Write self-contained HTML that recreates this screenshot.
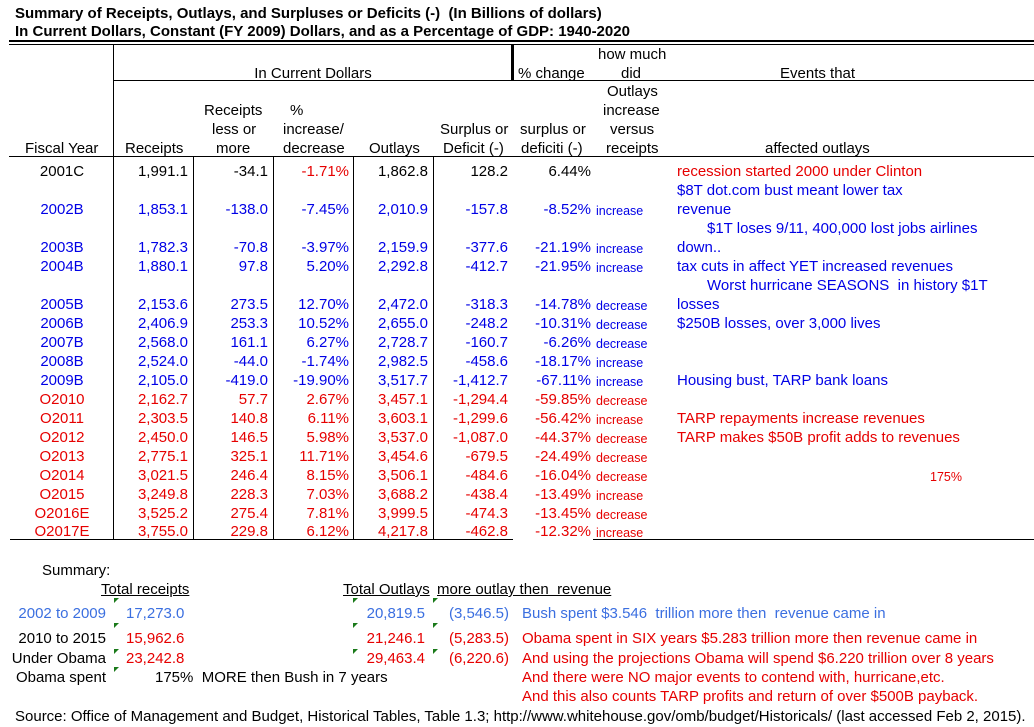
<!DOCTYPE html>
<html><head><meta charset="utf-8"><style>
body{margin:0;width:1034px;height:727px;background:#fff;overflow:hidden;font-family:"Liberation Sans",Arial,sans-serif;}
#root{position:relative;width:1034px;height:727px;}
.t{position:absolute;font-size:15px;line-height:16px;white-space:pre;color:#000;}
.r{text-align:right}.c{text-align:center}
.ln{position:absolute;background:#000;}
.b{color:#0000e6}.rd{color:#e60000}.lb{color:#3b6fe0}
.sm{font-size:12.5px}
.u{text-decoration:underline}
.mk{position:absolute;width:0;height:0;border-top:5px solid #1a7a1a;border-right:5px solid transparent;}
</style></head><body>
<div id="root">
<div class="t" style="left:15px;top:6px;font-weight:bold">Summary of Receipts, Outlays, and Surpluses or Deficits (-)  (In Billions of dollars)</div>
<div class="t" style="left:15px;top:24px;font-weight:bold">In Current Dollars, Constant (FY 2009) Dollars, and as a Percentage of GDP: 1940-2020</div>
<div class="ln" style="left:9px;top:40px;width:1025px;height:2px"></div>
<div class="ln" style="left:9px;top:44px;width:1025px;height:1px"></div>
<div class="ln" style="left:113px;top:45px;width:1px;height:495px"></div>
<div class="ln" style="left:511px;top:45px;width:3px;height:36px"></div>
<div class="ln" style="left:113px;top:80px;width:921px;height:1px"></div>
<div class="ln" style="left:9px;top:156px;width:1025px;height:1px"></div>
<div class="ln" style="left:10px;top:539px;width:503px;height:1px"></div>
<div class="ln" style="left:593px;top:539px;width:441px;height:1px"></div>
</div>
<script>
const years=["2001C","2002B","2003B","2004B","2005B","2006B","2007B","2008B","2009B","O2010","O2011","O2012","O2013","O2014","O2015","O2016E","O2017E"];
const receipts=["1,991.1","1,853.1","1,782.3","1,880.1","2,153.6","2,406.9","2,568.0","2,524.0","2,105.0","2,162.7","2,303.5","2,450.0","2,775.1","3,021.5","3,249.8","3,525.2","3,755.0"];
const lessMore=["-34.1","-138.0","-70.8","97.8","273.5","253.3","161.1","-44.0","-419.0","57.7","140.8","146.5","325.1","246.4","228.3","275.4","229.8"];
const pctInc=["-1.71%","-7.45%","-3.97%","5.20%","12.70%","10.52%","6.27%","-1.74%","-19.90%","2.67%","6.11%","5.98%","11.71%","8.15%","7.03%","7.81%","6.12%"];
const outlays=["1,862.8","2,010.9","2,159.9","2,292.8","2,472.0","2,655.0","2,728.7","2,982.5","3,517.7","3,457.1","3,603.1","3,537.0","3,454.6","3,506.1","3,688.2","3,999.5","4,217.8"];
const surplus=["128.2","-157.8","-377.6","-412.7","-318.3","-248.2","-160.7","-458.6","-1,412.7","-1,294.4","-1,299.6","-1,087.0","-679.5","-484.6","-438.4","-474.3","-462.8"];
const pctChg=["6.44%","-8.52%","-21.19%","-21.95%","-14.78%","-10.31%","-6.26%","-18.17%","-67.11%","-59.85%","-56.42%","-44.37%","-24.49%","-16.04%","-13.49%","-13.45%","-12.32%"];
const incDec=["","increase","increase","increase","decrease","decrease","decrease","increase","increase","decrease","increase","decrease","decrease","decrease","increase","decrease","increase"];
const rowY=[170,208,246,265,303,322,341,360,379,398,417,436,455,474,493,512,530];
const root=document.getElementById('root');
function add(txt,x,y,cls,w,name){
  const d=document.createElement('div');
  d.className='t '+(cls||'');
  d.style.top=(y-6)+'px';
  if(w){d.style.left=(x-w)+'px';d.style.width=w+'px';}else d.style.left=x+'px';
  d.textContent=txt;
  
  
  root.appendChild(d);return d;
}
add("In Current Dollars",413,72,'c',200,'header-current-dollars');
const hdr=[["% change",518,72],["how much",598,53],["did",621,72],["Outlays",607,90],["increase",603,109],["versus",610,128],["receipts",606,147],["Events that",780,72],["affected outlays",765,147],
["Receipts",204,109],["less or",212,128],["more",216,147],["%",290,109],["increase/",283,128],["decrease",283,147],["Fiscal Year",25,147],["Receipts",125,147],["Outlays",369,147],["Surplus or",440,128],["Deficit (-)",443,147],["surplus or",520,128],["deficiti (-)",521,147]];
hdr.forEach(h=>add(h[0],h[1],h[2],'', 0,'header-label'));
[193,273,353,433].forEach(x=>{const l=document.createElement('div');l.className='ln';l.style.cssText=`left:${x}px;top:157px;width:1px;height:383px`;


root.appendChild(l);});
years.forEach((yr,i)=>{
  const y=rowY[i];
  const col=i===0?'':(i<9?'b':'rd');
  add(yr,102,y,col+' c',80,'fiscal-year-cell');
  add(receipts[i],188,y,col+' r',80,'receipts-cell');
  add(lessMore[i],268,y,col+' r',80,'receipts-diff-cell');
  add(pctInc[i],349,y,(i===0?'rd':col)+' r',80,'pct-increase-cell');
  add(outlays[i],428,y,col+' r',80,'outlays-cell');
  add(surplus[i],508,y,col+' r',80,'surplus-cell');
  add(pctChg[i],591,y,col+' r',80,'pct-change-cell');
  if(incDec[i]) add(incDec[i],596,y+1,col+' sm',0,'increase-decrease-cell');
});
const events=[["recession started 2000 under Clinton",677,170,'rd'],["$8T dot.com bust meant lower tax",677,189,'b'],["revenue",677,208,'b'],["$1T loses 9/11, 400,000 lost jobs airlines",707,227,'b'],["down..",677,246,'b'],["tax cuts in affect YET increased revenues",677,265,'b'],["Worst hurricane SEASONS  in history $1T",707,284,'b'],["losses",677,303,'b'],["$250B losses, over 3,000 lives",677,322,'b'],["Housing bust, TARP bank loans",677,379,'b'],["TARP repayments increase revenues",677,417,'rd'],["TARP makes $50B profit adds to revenues",677,436,'rd'],["175%",930,475,'rd sm']];
events.forEach(e=>add(e[0],e[1],e[2],e[3],0,'event-note'));
add("Summary:",42,569,'',0,'summary-label');
add("Total receipts",101,588,'u',0,'total-receipts-heading');
add("Total Outlays",343,588,'u',0,'total-outlays-heading');
add("more outlay then  revenue",437,588,'u',0,'outlay-vs-revenue-heading');
const sumY=[612,637,657,676];
const sumLabel=["2002 to 2009","2010 to 2015","Under Obama","Obama spent"];
const sumRec=["17,273.0","15,962.6","23,242.8",""];
const sumOut=["20,819.5","21,246.1","29,463.4",""];
const sumDiff=["(3,546.5)","(5,283.5)","(6,220.6)",""];
const sumNote=["Bush spent $3.546  trillion more then  revenue came in","Obama spent in SIX years $5.283 trillion more then revenue came in","And using the projections Obama will spend $6.220 trillion over 8 years","And there were NO major events to contend with, hurricane,etc."];
const mkY=[598,623,649,667];
sumY.forEach((y,i)=>{
  const c=i===0?'lb':'rd';
  add(sumLabel[i],106,y,(i===0?'lb':'')+' r',110,'summary-period');
  if(sumRec[i]) add(sumRec[i],126,y,c,0,'summary-receipts');
  if(sumOut[i]) add(sumOut[i],425,y,c+' r',90,'summary-outlays');
  if(sumDiff[i]) add(sumDiff[i],509,y,c+' r',80,'summary-deficit');
  add(sumNote[i],522,y,c,0,'summary-note');
  (i===3?[114]:[114,353,433]).forEach(x=>{const m=document.createElement('div');m.className='mk';m.style.left=x+'px';m.style.top=mkY[i]+'px';
    
    
    root.appendChild(m);});
});
add("175%  MORE then Bush in 7 years",155,676,'',0,'obama-spent-note');
add("And this also counts TARP profits and return of over $500B payback.",522,695,'rd',0,'summary-note-tarp');
add("Source: Office of Management and Budget, Historical Tables, Table 1.3; http://www.whitehouse.gov/omb/budget/Historicals/ (last accessed Feb 2, 2015).",15,715,'',0,'source-note');
</script>
</body></html>
